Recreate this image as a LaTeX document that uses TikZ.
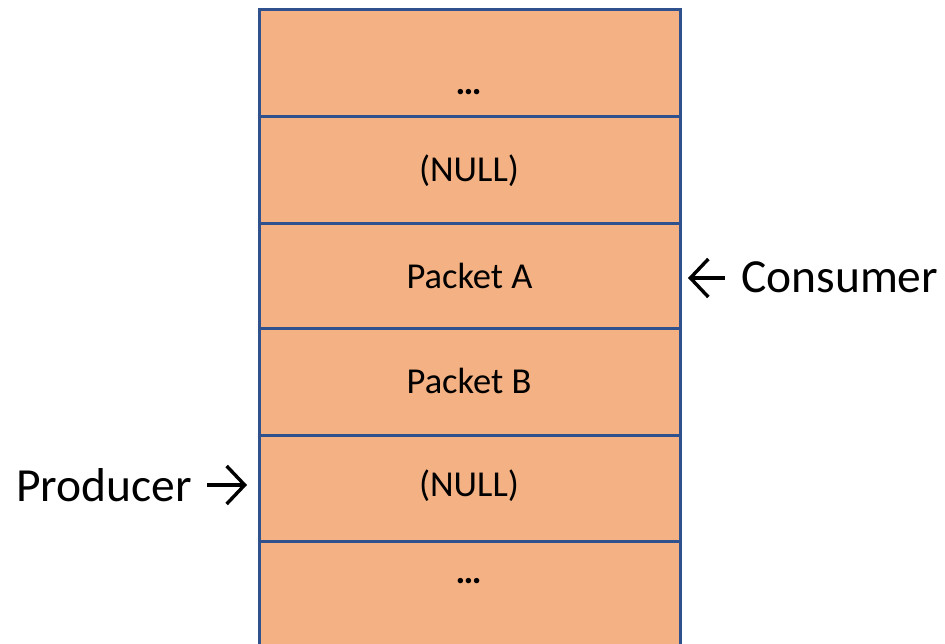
\documentclass[tikz,border=0pt]{standalone}
\usepackage{fontspec}
\setmainfont{Carlito}
\usetikzlibrary{arrows.meta}
\definecolor{cellfill}{HTML}{F4B183}
\definecolor{cellline}{HTML}{2F528F}
\begin{document}
\begin{tikzpicture}[x=1pt,y=-1pt,
  cell/.style={draw=cellline, fill=cellfill, line width=2.6pt,
    minimum width=421pt, inner sep=0pt, anchor=north west},
  celltext/.style={anchor=base, inner sep=0pt,
    font=\fontsize{36.5}{44}\selectfont},
  sidetext/.style={anchor=base west, inner sep=0pt,
    font=\fontsize{47.5}{57}\selectfont},
  pointer/.style={line width=3.4pt,
    -{Straight Barb[length=18pt,width=38pt]}}]
\useasboundingbox (0,0) rectangle (945,644);
\clip (0,0) rectangle (945,644);

% ring buffer slots
\node[cell, minimum height=107pt] (r1) at (258,8) {};
\node[cell, minimum height=107pt] (r2) at (258,115) {};
\node[cell, minimum height=105pt] (r3) at (258,222) {};
\node[cell, minimum height=107pt] (r4) at (258,327) {};
\node[cell, minimum height=106pt] (r5) at (258,434) {};
\node[cell, minimum height=120pt] (r6) at (258,540) {};

% slot contents
\node[celltext] (t1) at (468.5,95) {\textbf{…}};
\node[celltext] (t2) at (469,181.5) {(NULL)};
\node[celltext] (t3) at (469.5,289) {Packet A};
\node[celltext] (t4) at (469,393.5) {Packet B};
\node[celltext] (t5) at (469,496) {(NULL)};
\node[celltext] (t6) at (468.5,583) {\textbf{…}};

% producer and consumer positions
\node[sidetext] (prod) at (16,501.5) {Producer};
\node[sidetext] (cons) at (741,292.5) {Consumer};
\coordinate (pa) at (207,485);
\coordinate (pb) at (247,485);
\coordinate (ca) at (725,278);
\coordinate (cb) at (688,278);
\draw[pointer] (pa) -- (pb);
\draw[pointer] (ca) -- (cb);
\end{tikzpicture}
\end{document}
